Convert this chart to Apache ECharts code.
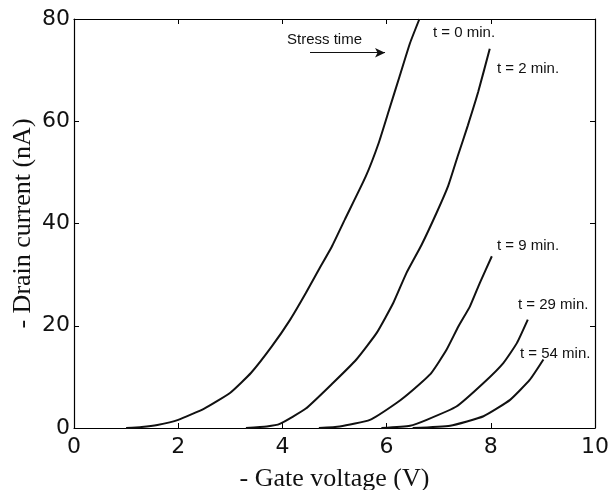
<!DOCTYPE html>
<html><head><meta charset="utf-8">
<script src="https://cdn.jsdelivr.net/npm/echarts@6/dist/echarts.min.js"></script>
<style>html,body{margin:0;padding:0;background:#fff}#c{width:610px;height:490px}</style>
</head><body><div id="c"></div>
<script>
const xTicks = [0, 2, 4, 6, 8, 10];
const yTicks = [0, 20, 40, 60, 80];
const seriesNames = ['t = 0 min.', 't = 2 min.', 't = 9 min.', 't = 29 min.', 't = 54 min.'];
const t0 = [[1.0,0],[1.3,0.2],[1.6,0.6],[2.0,1.6],[2.5,3.8],[3.0,6.9],[3.4,10.8],[3.8,16.0],[4.15,21.2],[4.45,26.4],[4.7,31.0],[4.95,35.5],[5.2,40.8],[5.6,49.2],[5.85,55.8],[6.05,62.3],[6.25,68.8],[6.45,75.3],[6.63,80]];
const t2 = [[3.3,0],[3.7,0.3],[3.95,0.8],[4.45,3.8],[4.97,8.8],[5.42,13.4],[5.81,18.6],[6.13,24.5],[6.38,30.3],[6.67,35.8],[6.96,42.1],[7.18,47.3],[7.36,53.0],[7.56,59.2],[7.76,65.8],[7.98,74.2]];
const t9 = [[4.7,0],[5.1,0.3],[5.68,1.6],[6.19,4.9],[6.51,7.5],[6.86,10.8],[7.15,15.3],[7.38,19.9],[7.6,23.8],[7.79,28.4],[8.02,33.6]];
const t29 = [[5.9,0],[6.45,0.45],[6.77,1.6],[7.34,4.2],[7.86,8.8],[8.24,12.7],[8.5,16.6],[8.71,21.2]];
const t54 = [[6.5,0],[7.22,0.45],[7.86,2.3],[8.37,5.5],[8.75,9.45],[9.01,13.4]];
const curves = [t0, t2, t9, t29, t54];
const arrowText = 'Stress time';
const arrowFrom = [4.53, 73.4];
const arrowTo = [5.97, 73.4];
const xTitle = '- Gate voltage (V)';
const yTitle = '- Drain current (nA)';

const chart = echarts.init(document.getElementById('c'), null, {renderer: 'canvas'});
const axisBase = {
  type: 'value',
  axisLine: {show: true, onZero: false, lineStyle: {color: '#000', width: 1.2}},
  axisTick: {show: true, inside: true, length: 5, lineStyle: {color: '#000', width: 1}},
  splitLine: {show: false}
};
const tickFont = {color: '#111', fontFamily: 'DejaVu Sans', fontSize: 22};
const series = curves.map((d, i) => ({
  type: 'line', name: seriesNames[i], data: d, showSymbol: false, smooth: 0.15,
  lineStyle: {color: '#111', width: 2}, clip: true, z: 3
}));
series[0].markLine = {
  silent: true, symbol: ['none', 'arrow'], symbolSize: [7, 10],
  lineStyle: {color: '#111', width: 1.2, type: 'solid'}, label: {show: false},
  data: [[{coord: arrowFrom}, {coord: arrowTo}]]
};
const labelFont = {fill: '#111', font: '15px "Liberation Sans", Arial, sans-serif'};
chart.setOption({
  animation: false,
  grid: {left: 74, right: 15, top: 19, bottom: 62, containLabel: false, outerBoundsMode: 'none'},
  xAxis: [
    Object.assign({}, axisBase, {min: 0, max: 10, interval: 2, position: 'bottom',
      axisLabel: Object.assign({margin: 8}, tickFont),
      name: xTitle, nameLocation: 'middle', nameGap: 38, nameMoveOverlap: false,
      nameTextStyle: {fontFamily: 'Liberation Serif', fontSize: 26, color: '#111'}}),
    Object.assign({}, axisBase, {min: 0, max: 10, interval: 2, position: 'top', axisLabel: {show: false}})
  ],
  yAxis: [
    Object.assign({}, axisBase, {min: 0, max: 80, interval: 20, position: 'left',
      axisLabel: Object.assign({margin: 4}, tickFont),
      name: yTitle, nameLocation: 'middle', nameGap: 38, nameMoveOverlap: false,
      nameTextStyle: {fontFamily: 'Liberation Serif', fontSize: 26, color: '#111'}}),
    Object.assign({}, axisBase, {min: 0, max: 80, interval: 20, position: 'right', axisLabel: {show: false}})
  ],
  series: series,
  graphic: [
    {type: 'text', left: 287, top: 32, style: Object.assign({text: arrowText}, labelFont)},
    {type: 'text', left: 433, top: 25, style: Object.assign({text: seriesNames[0]}, labelFont)},
    {type: 'text', left: 497, top: 61, style: Object.assign({text: seriesNames[1]}, labelFont)},
    {type: 'text', left: 497, top: 238, style: Object.assign({text: seriesNames[2]}, labelFont)},
    {type: 'text', left: 518, top: 297, style: Object.assign({text: seriesNames[3]}, labelFont)},
    {type: 'text', left: 520, top: 346, style: Object.assign({text: seriesNames[4]}, labelFont)}
  ]
});
</script></body></html>
